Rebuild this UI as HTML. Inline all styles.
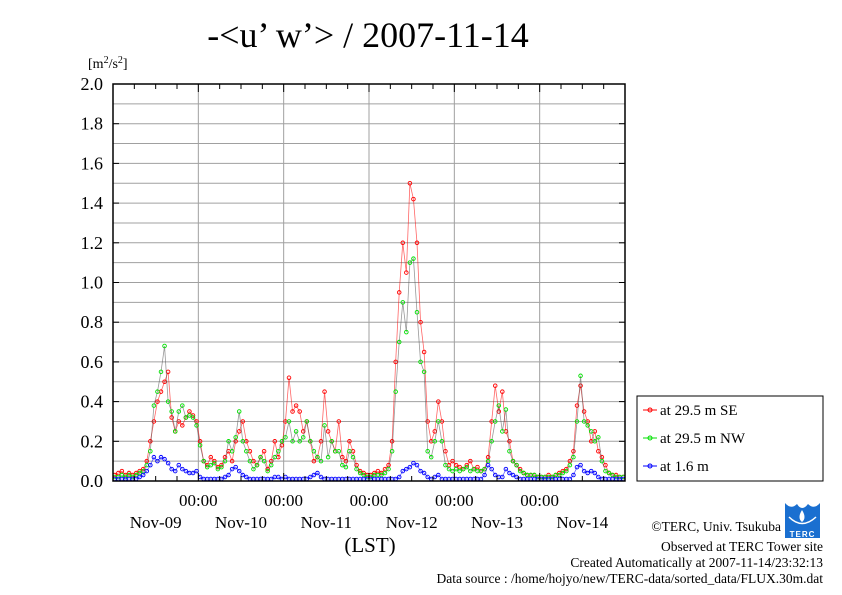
<!DOCTYPE html>
<html><head><meta charset="utf-8"><style>
body{margin:0;background:#fff;}
svg{display:block;font-family:"Liberation Serif",serif;}
</style></head><body>
<svg id="c" width="842" height="595" viewBox="0 0 842 595">
<text x="368" y="47" font-size="36" text-anchor="middle">-&lt;u’ w’&gt; / 2007-11-14</text>
<text x="88" y="68" font-size="14">[m<tspan dy="-5" font-size="10">2</tspan><tspan dy="5">/s</tspan><tspan dy="-5" font-size="10">2</tspan><tspan dy="5">]</tspan></text>
<g id="grid"></g><g id="series"></g><g id="axes"></g>
<text x="370" y="552" font-size="21" text-anchor="middle">(LST)</text>
<g>
<rect x="637" y="396" width="186" height="85" fill="#fff" stroke="#000"/>
<g id="leg"></g>
</g>
<g font-size="13.5" text-anchor="end">
<text x="781" y="531">©TERC, Univ. Tsukuba</text>
<text x="823" y="551">Observed at TERC Tower site</text>
<text x="823" y="567">Created Automatically at 2007-11-14/23:32:13</text>
<text x="823" y="583">Data source : /home/hojyo/new/TERC-data/sorted_data/FLUX.30m.dat</text>
</g>
<g>
<path d="M785 503 Q791 510 797 504 Q802 512 808 504 Q814 510 820 503 V538 H785 Z" fill="#1a6fd0"/>
<path d="M802 510 Q807 518 802 522 Q797 518 802 510 Z" fill="#fff"/>
<path d="M789 517 Q802 530 816 517" fill="none" stroke="#fff" stroke-width="1.5"/>
<text x="802.5" y="537" font-size="8" fill="#fff" text-anchor="middle" font-family="Liberation Sans" font-weight="bold" letter-spacing="1">TERC</text>
</g>
</svg>
<script>
const dayLabels=["Nov-09","Nov-10","Nov-11","Nov-12","Nov-13","Nov-14"];
const yTicks=[0,0.2,0.4,0.6,0.8,1.0,1.2,1.4,1.6,1.8,2.0];
const seriesNames=["at 29.5 m SE","at 29.5 m NW","at 1.6 m"];
const seriesColors=["#ff0000","#00e000","#0000ff"];
const se=[0.03,0.04,0.05,0.03,0.04,0.03,0.04,0.05,0.06,0.1,0.2,0.3,0.4,0.45,0.5,0.55,0.32,0.25,0.3,0.28,0.32,0.35,0.33,0.3,
0.2,0.1,0.08,0.12,0.1,0.07,0.08,0.12,0.15,0.1,0.2,0.25,0.3,0.2,0.15,0.1,0.08,0.12,0.15,0.06,0.1,0.2,0.12,0.18,
0.3,0.52,0.35,0.38,0.35,0.25,0.3,0.2,0.1,0.12,0.2,0.45,0.25,0.2,0.15,0.3,0.12,0.1,0.2,0.15,0.08,0.05,0.04,0.03,
0.03,0.04,0.05,0.04,0.06,0.08,0.2,0.6,0.95,1.2,1.05,1.5,1.42,1.2,0.8,0.65,0.3,0.2,0.25,0.4,0.3,0.15,0.08,0.1,
0.08,0.07,0.06,0.08,0.1,0.06,0.07,0.05,0.06,0.12,0.3,0.48,0.35,0.45,0.25,0.2,0.1,0.08,0.06,0.04,0.03,0.03,0.03,0.02,
0.02,0.02,0.03,0.02,0.03,0.04,0.05,0.06,0.1,0.15,0.38,0.48,0.35,0.3,0.2,0.25,0.15,0.12,0.08,0.04,0.03,0.03,0.02,0.02];
const nw=[0.02,0.02,0.03,0.02,0.03,0.02,0.03,0.04,0.05,0.08,0.15,0.38,0.45,0.55,0.68,0.4,0.35,0.25,0.35,0.38,0.32,0.33,0.32,0.28,
0.18,0.1,0.07,0.08,0.09,0.06,0.07,0.1,0.2,0.15,0.22,0.35,0.2,0.15,0.1,0.06,0.08,0.12,0.1,0.05,0.08,0.12,0.15,0.2,
0.22,0.3,0.2,0.25,0.2,0.22,0.3,0.2,0.15,0.12,0.1,0.28,0.12,0.2,0.15,0.15,0.08,0.07,0.15,0.12,0.06,0.04,0.03,0.02,
0.02,0.03,0.03,0.03,0.04,0.06,0.15,0.45,0.7,0.9,0.75,1.1,1.12,0.85,0.6,0.55,0.15,0.12,0.2,0.3,0.2,0.08,0.06,0.05,
0.06,0.05,0.06,0.07,0.05,0.06,0.05,0.05,0.06,0.1,0.2,0.3,0.38,0.25,0.36,0.15,0.1,0.08,0.05,0.04,0.03,0.03,0.03,0.02,
0.02,0.02,0.02,0.02,0.03,0.03,0.04,0.05,0.08,0.12,0.3,0.53,0.3,0.28,0.25,0.2,0.22,0.1,0.05,0.04,0.03,0.02,0.02,0.02];
const low=[0.01,0.01,0.01,0.01,0.01,0.01,0.01,0.02,0.03,0.05,0.08,0.12,0.1,0.12,0.11,0.09,0.06,0.05,0.08,0.06,0.05,0.04,0.04,0.05,
0.02,0.01,0.01,0.01,0.01,0.01,0.01,0.02,0.03,0.06,0.07,0.05,0.03,0.02,0.01,0.01,0.01,0.01,0.01,0.01,0.01,0.02,0.02,0.01,
0.02,0.01,0.01,0.01,0.01,0.01,0.01,0.02,0.03,0.04,0.02,0.01,0.01,0.01,0.01,0.01,0.01,0.01,0.01,0.01,0.01,0.01,0.01,0.01,
0.01,0.01,0.01,0.01,0.01,0.01,0.01,0.01,0.02,0.05,0.06,0.07,0.09,0.08,0.05,0.04,0.02,0.01,0.02,0.03,0.01,0.01,0.01,0.01,
0.01,0.01,0.01,0.01,0.01,0.01,0.01,0.01,0.03,0.08,0.06,0.03,0.02,0.02,0.06,0.04,0.03,0.02,0.01,0.01,0.01,0.01,0.01,0.01,
0.01,0.01,0.01,0.01,0.01,0.01,0.01,0.01,0.01,0.03,0.07,0.08,0.05,0.04,0.05,0.04,0.02,0.01,0.01,0.01,0.01,0.01,0.01,0.01];

const NS="http://www.w3.org/2000/svg";
const X0=113,X1=625,Y0=481,Y1=84,HOURS=144;
function xs(h){return X0+(X1-X0)*h/HOURS;}
function ys(v){return Y0-(Y0-Y1)*v/2.0;}
function mk(tag,attrs,parent){const e=document.createElementNS(NS,tag);for(const k in attrs)e.setAttribute(k,attrs[k]);parent.appendChild(e);return e;}
const grid=document.getElementById('grid'),axes=document.getElementById('axes'),ser=document.getElementById('series');
for(let v=0.1;v<2.0;v+=0.1){
  const l=mk('line',{x1:X0,x2:X1,y1:ys(v),y2:ys(v),stroke:'#a0a0a0','stroke-width':1},grid);
  
  
}
for(let d=1;d<dayLabels.length;d++){
  const l=mk('line',{x1:xs(d*24),x2:xs(d*24),y1:Y1,y2:Y0,stroke:'#a0a0a0','stroke-width':1},grid);
  
  
}
yTicks.forEach(v=>{
  const t=mk('text',{x:103,y:ys(v)+6,'font-size':18,'text-anchor':'end'},axes);
  t.textContent=v.toFixed(1);
  
  
  mk('line',{x1:X0,x2:X0+6,y1:ys(v),y2:ys(v),stroke:'#000'},axes);
  mk('line',{x1:X1-6,x2:X1,y1:ys(v),y2:ys(v),stroke:'#000'},axes);
});
for(let h=0;h<=HOURS;h+=6){
  const len=h%24===0?8:5;
  mk('line',{x1:xs(h),x2:xs(h),y1:Y0,y2:Y0-len,stroke:'#000'},axes);
  mk('line',{x1:xs(h),x2:xs(h),y1:Y1,y2:Y1+len,stroke:'#000'},axes);
}
dayLabels.forEach((d,i)=>{
  const t=mk('text',{x:xs(i*24+12),y:528,'font-size':17,'text-anchor':'middle'},axes);
  t.textContent=d;
  
  
  if(i>0){
    const t2=mk('text',{x:xs(i*24),y:506,'font-size':17,'text-anchor':'middle'},axes);
    t2.textContent="00:00";
    
    
  }
});
const fr=mk('rect',{x:X0,y:Y1,width:X1-X0,height:Y0-Y1,fill:'none',stroke:'#000','stroke-width':1.5},axes);



[se,nw,low].forEach((arr,si)=>{
  const g=mk('g',{},ser);
  
  
  const pts=arr.map((v,i)=>xs(i+0.5)+','+ys(v)).join(' ');
  mk('polyline',{points:pts,fill:'none',stroke:si==1?'#555':seriesColors[si],'stroke-width':0.8,'stroke-opacity':0.6},g);
  arr.forEach((v,i)=>{
    const c=mk('circle',{cx:xs(i+0.5),cy:ys(v),r:1.8,fill:'none',stroke:seriesColors[si],'stroke-width':0.9},g);
    
    
  });
});
const leg=document.getElementById('leg');
seriesNames.forEach((n,i)=>{
  const y=410+i*28;
  const g=mk('g',{},leg);
  
  
  mk('line',{x1:643,x2:657,y1:y,y2:y,stroke:seriesColors[i]},g);
  mk('circle',{cx:650,cy:y,r:2,fill:'none',stroke:seriesColors[i]},g);
  const t=mk('text',{x:660,y:y+5,'font-size':15},g);
  t.textContent=n;
});
</script>
</body></html>
